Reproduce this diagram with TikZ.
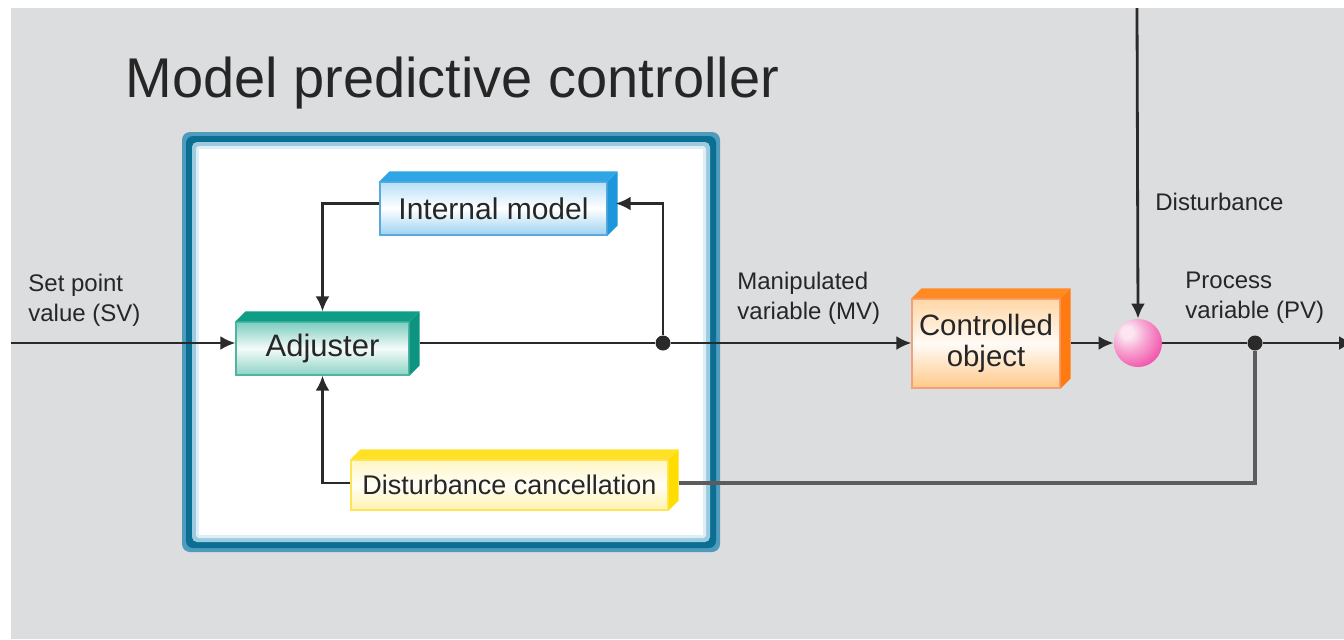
\documentclass[tikz,border=0pt]{standalone}
\usepackage{fontspec}
\setmainfont{Liberation Sans}
\usetikzlibrary{arrows.meta,calc}
\definecolor{bggray}{HTML}{DCDDDF}
\definecolor{frA}{HTML}{4E9BBD}
\definecolor{frB}{HTML}{0B6F94}
\definecolor{frC}{HTML}{9CCBE0}
\definecolor{frD}{HTML}{DCEEF6}
\definecolor{txt}{HTML}{262626}
\definecolor{ln}{HTML}{2A2A2A}
\definecolor{fb}{HTML}{5C5C5C}
\definecolor{imTop}{HTML}{2FA5E6}
\definecolor{imSide}{HTML}{1E96DC}
\definecolor{imA}{HTML}{B8E0F7}
\definecolor{imC}{HTML}{9CD2F2}
\definecolor{imD}{HTML}{5AA8DC}
\definecolor{adTop}{HTML}{0E9E86}
\definecolor{adSide}{HTML}{0C9480}
\definecolor{adA}{HTML}{7CCDBE}
\definecolor{adC}{HTML}{8DD3C5}
\definecolor{adD}{HTML}{4DB5A2}
\definecolor{dcTop}{HTML}{FFE226}
\definecolor{dcSide}{HTML}{FFDD00}
\definecolor{dcA}{HTML}{FFF6C4}
\definecolor{dcC}{HTML}{FFF3B0}
\definecolor{dcD}{HTML}{FFE45A}
\definecolor{coTop}{HTML}{FF8A22}
\definecolor{coSide}{HTML}{FF7A10}
\definecolor{coA}{HTML}{FFD7A6}
\definecolor{coC}{HTML}{FFC989}
\definecolor{coD}{HTML}{F4A07A}
\definecolor{pkA}{HTML}{FCE6F2}
\definecolor{pkB}{HTML}{F7A6D2}
\definecolor{pkC}{HTML}{F25AAF}
\definecolor{pkD}{HTML}{E8259A}
\pgfdeclareradialshading{pinkball}{\pgfpoint{-12bp}{12bp}}{%
  color(0bp)=(pkA); color(6bp)=(pkA); color(18bp)=(pkB); color(34bp)=(pkC); color(50bp)=(pkD); color(100bp)=(pkD)}
\newcommand\boxfaces[3]{%
  \fill[#2] (#1.north west) -- ++(5pt,5pt) -- ($(#1.north east)+(5pt,5pt)$) -- (#1.north east) -- cycle;
  \fill[#3] (#1.north east) -- ++(5pt,5pt) -- ($(#1.south east)+(5pt,5pt)$) -- (#1.south east) -- cycle;}
\tikzset{
  blk/.style={inner sep=0pt, align=center, text=txt, line width=0.6pt},
  lbl/.style={inner sep=0pt, align=left, text=txt, anchor=north west, font=\fontsize{12}{15}\selectfont},
  ln/.style={draw=ln, line width=1.4pt},
  fbln/.style={draw=fb, line width=1.6pt},
  arr/.style={-{Latex[length=7.5pt,width=7pt]}},
  jdot/.style={circle, fill=ln, minimum size=7.5pt, inner sep=0pt},
}
\begin{document}
\begin{tikzpicture}[x=0.5pt,y=-0.5pt]
\useasboundingbox (0,0) rectangle (1344,639);
\fill[bggray] (11,8) rectangle (1344,639);
% controller frame
\fill[frA, rounded corners=4pt] (182,132) rectangle (720,552);
\fill[frB, rounded corners=3.5pt] (186,136) rectangle (716,548);
\fill[frC, rounded corners=2.5pt] (192,142) rectangle (710,542);
\fill[frD, rounded corners=1.5pt] (196,146) rectangle (706,538);
\fill[white] (199,149) rectangle (703,535);
\node[anchor=base west, inner sep=0pt, text=txt, font=\fontsize{28}{34}\selectfont] (title) at (125,97) {Model predictive controller};
\coordinate (mainy) at (0,343);
% blocks
\node[blk, minimum width=113.5pt, minimum height=26.5pt, top color=imA, bottom color=imC, middle color=white, draw=imD, font=\fontsize{15}{18}\selectfont] (im) at (493.5,208.5) {Internal model};
\boxfaces{im}{imTop}{imSide}
\node[blk, minimum width=86.5pt, minimum height=26.5pt, top color=adA, bottom color=adC, middle color=white!92!adA, draw=adD, font=\fontsize{15.5}{18}\selectfont] (adj) at (322.5,348.5) {Adjuster};
\boxfaces{adj}{adTop}{adSide}
\node[blk, minimum width=158.5pt, minimum height=25pt, top color=dcA, bottom color=dcC, middle color=white!85!dcA, draw=dcD, font=\fontsize{13.5}{16}\selectfont] (dc) at (509.5,485) {Disturbance cancellation};
\boxfaces{dc}{dcTop}{dcSide}
\node[blk, minimum width=74pt, minimum height=44.5pt, top color=coA, bottom color=coC, middle color=white!90!coA, draw=coD, font=\fontsize{14.7}{15.5}\selectfont] (co) at (986,343.5) {Controlled\\object};
\boxfaces{co}{coTop}{coSide}
\node[circle, minimum size=24pt, inner sep=0pt, shading=pinkball] (sum) at (1138,343) {};
\node[jdot] (dot1) at (663,343) {};
\node[jdot] (dot2) at (1255,343) {};
\coordinate (svin) at (11,343);
\coordinate (out) at (1354,343);
\coordinate (dtop) at (1137,8);
% labels
\node[lbl] (sv) at (28,274) {Set point\\value (SV)};
\node[lbl] (mv) at (737,272) {Manipulated\\variable (MV)};
\node[lbl] (pv) at (1185,272) {Process\\variable (PV)};
\node[lbl] (dist) at (1155,193) {Disturbance};
% connectors
\draw[ln, arr] (svin) -- (adj.west |- mainy);
\draw[ln] ($(adj.east |- mainy)+(5pt,0)$) -- (dot1);
\draw[ln, arr] (dot1) -- (co.west |- mainy);
\draw[ln, arr] ($(co.east |- mainy)+(5pt,0)$) -- (sum.west);
\draw[ln] (sum.east) -- (dot2);
\draw[ln, arr] (dot2) -- (out);
\draw[ln, arr] (dtop) -- (sum.north);
\draw[ln, arr] (dot1) |- ($(im.east)+(4pt,2.5pt)$);
\draw[ln, arr] ($(im.west)+(0,2.5pt)$) -| ($(adj.north)+(0,5pt)$);
\draw[ln, arr] ($(dc.west)+(0,1pt)$) -| (adj.south);
\draw[fbln] (dot2) |- ($(dc.east)+(5pt,1pt)$);
\end{tikzpicture}
\end{document}
